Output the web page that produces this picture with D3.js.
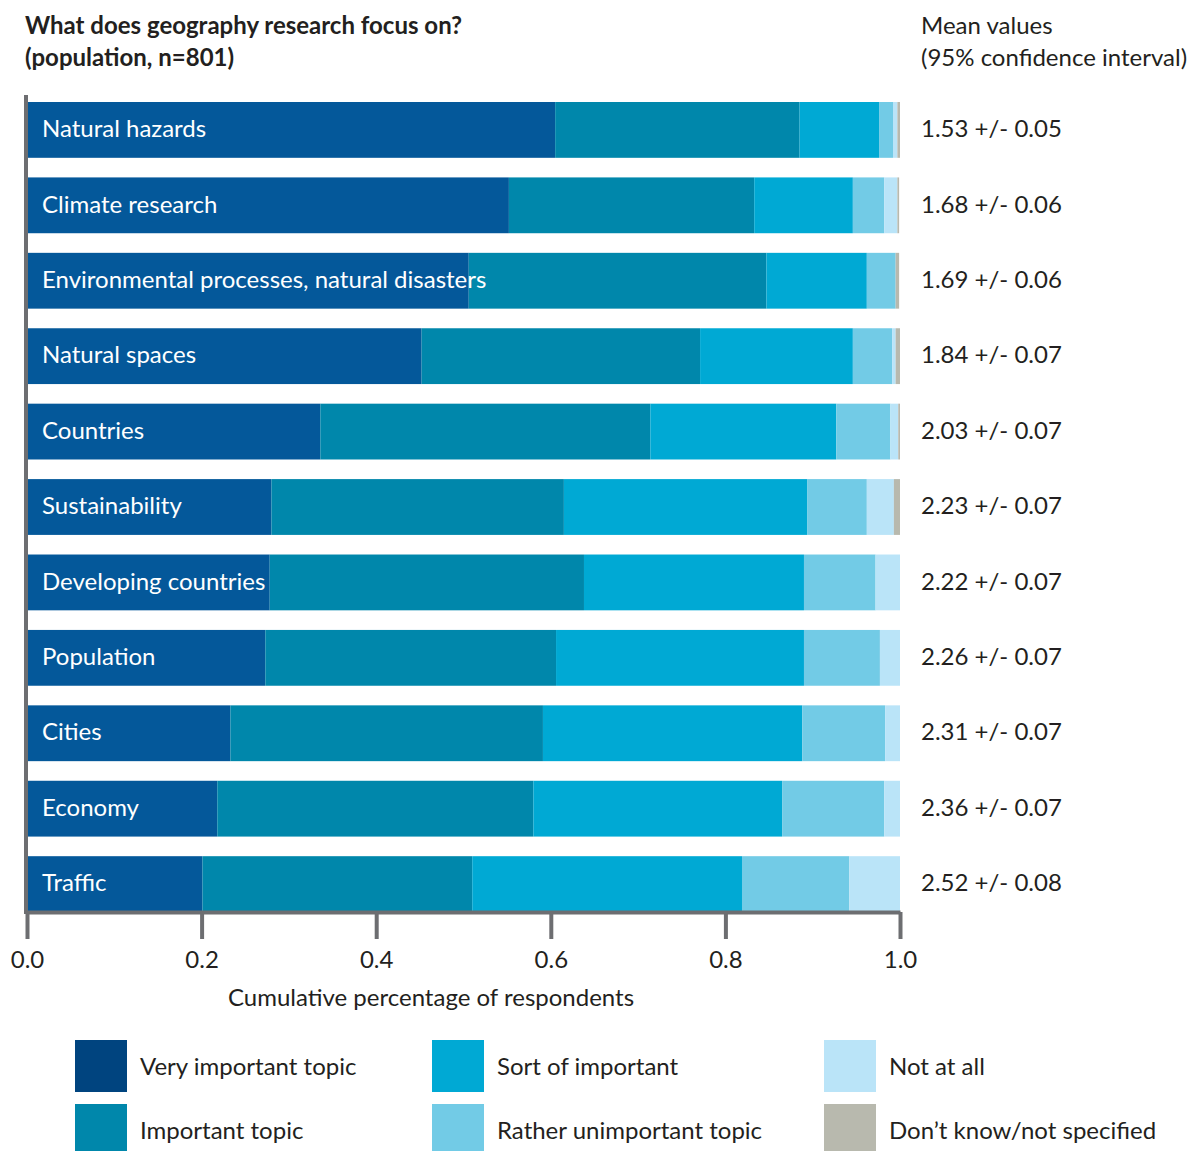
<!DOCTYPE html>
<html>
<head>
<meta charset="utf-8">
<script src="https://cdn.jsdelivr.net/npm/d3@7"></script>
<style>
  body { margin: 0; background: #fff; }
  svg { font-family: Lato, "Open Sans", sans-serif; }
</style>
</head>
<body>
<svg id="chart" width="1196" height="1151"></svg>
<script>
// topics, top to bottom
const topics = ["Natural hazards", "Climate research", "Environmental processes, natural disasters",
  "Natural spaces", "Countries", "Sustainability", "Developing countries", "Population",
  "Cities", "Economy", "Traffic"];
const categories = ["Very important topic", "Important topic", "Sort of important",
  "Rather unimportant topic", "Not at all", "Don\u2019t know/not specified"];

// share of respondents per category (same order as categories)
const veryImportant = [0.605, 0.552, 0.506, 0.452, 0.336, 0.280, 0.278, 0.273, 0.233, 0.218, 0.201];
const important     = [0.280, 0.281, 0.341, 0.319, 0.378, 0.335, 0.360, 0.333, 0.358, 0.362, 0.309];
const sortOf        = [0.091, 0.113, 0.115, 0.175, 0.213, 0.279, 0.252, 0.284, 0.297, 0.285, 0.309];
const rather        = [0.016, 0.036, 0.033, 0.045, 0.062, 0.068, 0.082, 0.087, 0.095, 0.117, 0.123];
const notAtAll      = [0.005, 0.015, 0.000, 0.004, 0.009, 0.031, 0.028, 0.023, 0.017, 0.018, 0.058];
const dontKnow      = [0.003, 0.002, 0.004, 0.005, 0.002, 0.007, 0.000, 0.000, 0.000, 0.000, 0.000];

const meanValues = ["1.53 +/- 0.05", "1.68 +/- 0.06", "1.69 +/- 0.06", "1.84 +/- 0.07", "2.03 +/- 0.07",
  "2.23 +/- 0.07", "2.22 +/- 0.07", "2.26 +/- 0.07", "2.31 +/- 0.07", "2.36 +/- 0.07", "2.52 +/- 0.08"];
const xTicks = [0, 0.2, 0.4, 0.6, 0.8, 1.0];

const barColors = ["#04589a", "#0087ab", "#00a9d4", "#72cbe6", "#bae4f8", "#b8b9ae"];
const legendColors = ["#00447f", "#0087ab", "#00a9d4", "#72cbe6", "#bae4f8", "#b8b9ae"];

const svg = d3.select("#chart");
const textColor = "#231f20";
const axisColor = "#6d6e71";
const fs = "24px";

const x = d3.scaleLinear().domain([0, 1]).range([27, 900]);
const y = d3.scaleBand().domain(topics).range([102, 912]).paddingInner(0.26).paddingOuter(0);

// stack the series
const series = [veryImportant, important, sortOf, rather, notAtAll, dontKnow];
const rows = topics.map((t, i) => {
  let r = {topic: t};
  categories.forEach((c, j) => r[c] = series[j][i]);
  return r;
});
const stacked = d3.stack().keys(categories)(rows);

// title
svg.append("text").attr("x", 25).attr("y", 34)
  .style("font-size", fs).style("font-weight", "bold").attr("fill", textColor)
  .text("What does geography research focus on?");
svg.append("text").attr("x", 25).attr("y", 66)
  .style("font-size", fs).style("font-weight", "bold").attr("fill", textColor)
  .text("(population, n=801)");
svg.append("text").attr("x", 921).attr("y", 34)
  .style("font-size", fs).attr("fill", textColor).text("Mean values");
svg.append("text").attr("x", 921).attr("y", 66)
  .style("font-size", fs).attr("fill", textColor).text("(95% confidence interval)");

// bars
const barG = svg.append("g");
barG.selectAll("g")
  .data(stacked)
  .join("g")
  .attr("fill", (d, i) => barColors[i])
  .selectAll("rect")
  .data(d => d)
  .join("rect")
  .attr("x", d => x(d[0]))
  .attr("y", d => y(d.data.topic))
  .attr("width", d => Math.max(0, x(d[1]) - x(d[0])))
  .attr("height", y.bandwidth());

// labels inside bars
svg.append("g").selectAll("text")
  .data(topics)
  .join("text")
  .attr("x", 42)
  .attr("y", d => y(d) + y.bandwidth() / 2)
  .attr("dy", "0.3em")
  .attr("fill", "#fff")
  .style("font-size", fs)
  .text(d => d);

// mean values
svg.append("g").selectAll("text")
  .data(meanValues)
  .join("text")
  .attr("x", 921)
  .attr("y", (d, i) => y(topics[i]) + y.bandwidth() / 2)
  .attr("dy", "0.3em")
  .attr("fill", textColor)
  .style("font-size", fs)
  .text(d => d);

// axes
svg.append("line")
  .attr("x1", 26).attr("x2", 26).attr("y1", 95).attr("y2", 914)
  .attr("stroke", axisColor).attr("stroke-width", 4);

const xAxis = svg.append("g")
  .attr("transform", "translate(0,912)")
  .call(d3.axisBottom(x).tickValues(xTicks).tickSize(27).tickSizeOuter(0).tickFormat(d3.format(".1f")));
xAxis.select(".domain").attr("stroke", axisColor).attr("stroke-width", 4);
xAxis.selectAll(".tick line").attr("stroke", axisColor).attr("stroke-width", 4);
xAxis.selectAll(".tick text")
  .attr("y", 48).attr("dy", "0.35em")
  .attr("fill", textColor)
  .style("font-size", fs)
  .style("font-family", "Lato, sans-serif");

svg.append("text")
  .attr("x", 431).attr("y", 998).attr("dy", "0.35em")
  .attr("text-anchor", "middle")
  .attr("fill", textColor)
  .style("font-size", fs)
  .text("Cumulative percentage of respondents");

// legend, three columns, two rows
const legendX = [75, 432, 824];
const legendY = [1040, 1104];
const legend = svg.append("g").selectAll("g")
  .data(categories)
  .join("g")
  .attr("transform", (d, i) => "translate(" + legendX[Math.floor(i / 2)] + "," + legendY[i % 2] + ")");
legend.append("rect")
  .attr("width", 52).attr("height", 52)
  .attr("fill", (d, i) => legendColors[i]);
legend.append("text")
  .attr("x", 65).attr("y", 27).attr("dy", "0.35em")
  .attr("fill", textColor)
  .style("font-size", fs)
  .text(d => d);
</script>
</body>
</html>
